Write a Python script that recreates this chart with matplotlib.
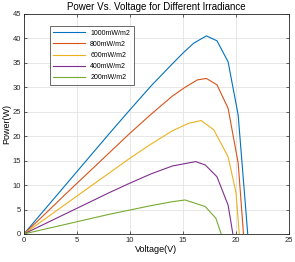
import matplotlib
matplotlib.use("Agg")
import matplotlib.pyplot as plt

# voltage / power samples, one pair per irradiance
v_1000 = [0, 2, 4, 6, 8, 10, 12, 14, 15, 16, 17.2, 18.2, 19.25, 20.2, 21.1]
p_1000 = [0, 5.1, 10.2, 15.3, 20.4, 25.4, 30.3, 34.8, 37.0, 39.0, 40.5, 39.5, 35.2, 24.3, 0]

v_800 = [0, 2, 4, 6, 8, 10, 12, 14, 15.2, 16.35, 17.2, 18.2, 19.25, 20.2, 20.7]
p_800 = [0, 4.1, 8.3, 12.4, 16.5, 20.6, 24.5, 28.2, 30.0, 31.5, 31.8, 30.5, 25.7, 14.5, 0]

v_600 = [0, 2, 4, 6, 8, 10, 12, 14, 15.5, 16.7, 17.9, 19.25, 20.0, 20.3]
p_600 = [0, 3.1, 6.2, 9.3, 12.4, 15.5, 18.4, 21.1, 22.6, 23.2, 21.3, 15.8, 8.4, 0]

v_400 = [0, 2, 4, 6, 8, 10, 12, 14, 16.2, 17.1, 18.2, 19.25, 19.7]
p_400 = [0, 2.1, 4.2, 6.3, 8.4, 10.4, 12.3, 13.9, 14.8, 14.1, 11.7, 5.9, 0]

v_200 = [0, 2, 4, 6, 8, 10, 12, 14, 15.2, 17.1, 18.1, 18.6]
p_200 = [0, 1.0, 2.0, 3.0, 4.0, 4.9, 5.8, 6.6, 6.95, 5.6, 3.2, 0]

labels = ["1000mW/m2", "800mW/m2", "600mW/m2", "400mW/m2", "200mW/m2"]
colors = ["#0072BD", "#D95319", "#EDB120", "#7E2F8E", "#77AC30"]

plt.rcParams["font.family"] = "Liberation Sans"

fig = plt.figure(figsize=(2.95, 2.62), dpi=100)
ax = fig.add_axes([0.081, 0.107, 0.899, 0.84])

series = [(v_1000, p_1000), (v_800, p_800), (v_600, p_600), (v_400, p_400), (v_200, p_200)]
for (v, p), lab, c in zip(series, labels, colors):
    ax.plot(v, p, color=c, lw=0.8, label=lab)

ax.set_xlim(0, 25)
ax.set_ylim(0, 45)
ax.set_xticks(range(0, 26, 5))
ax.set_yticks(range(0, 46, 5))
ax.grid(True, color="#e3e3e3", lw=0.6)
ax.tick_params(direction="in", length=2, width=0.5, labelsize=5.5, colors="#262626",
               top=True, right=True, pad=2)
for s in ax.spines.values():
    s.set_color("#262626")
    s.set_linewidth(0.6)

ax.set_title("Power Vs. Voltage for Different Irradiance", fontsize=7, pad=3)
ax.set_xlabel("Voltage(V)", fontsize=6.5, labelpad=1)
ax.set_ylabel("Power(W)", fontsize=6.5, labelpad=1)

leg = ax.legend(loc="upper left", bbox_to_anchor=(0.085, 0.96), fontsize=5,
                frameon=True, fancybox=False, edgecolor="#262626",
                handlelength=4.5, borderpad=0.5, labelspacing=0.6)
leg.get_frame().set_linewidth(0.6)

fig.savefig("out.png", dpi=100)
